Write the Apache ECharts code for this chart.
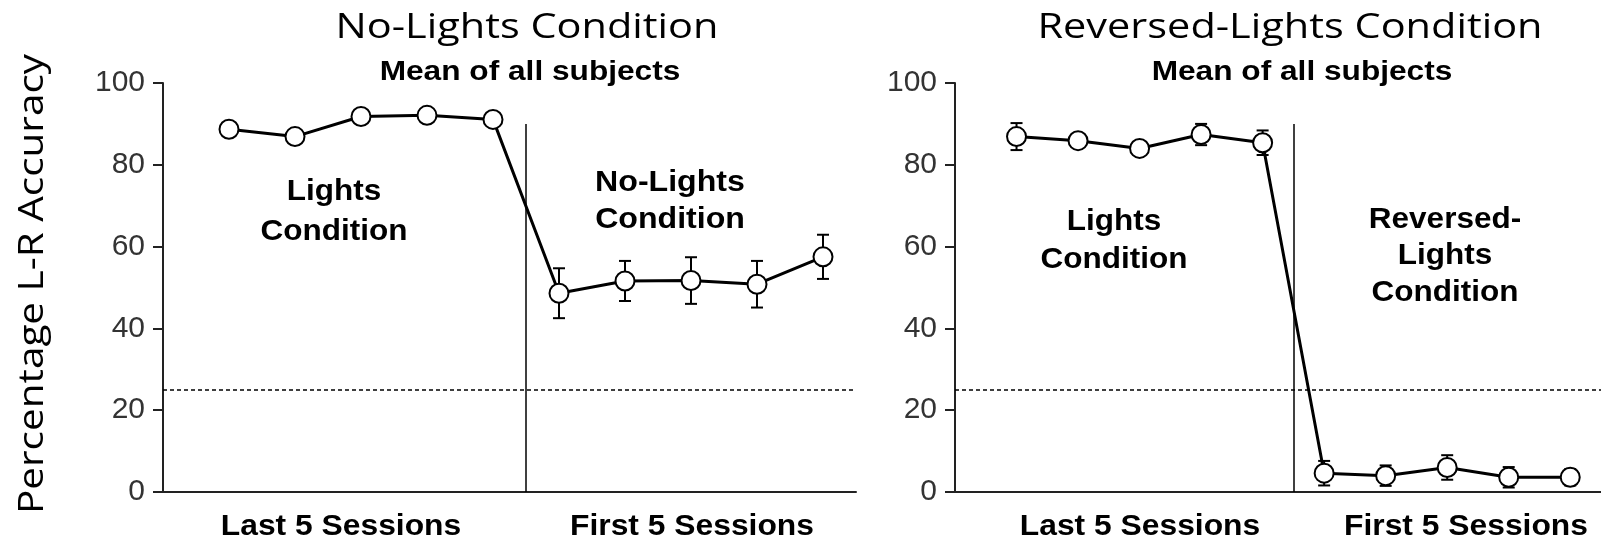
<!DOCTYPE html>
<html>
<head>
<meta charset="utf-8">
<script src="https://cdn.jsdelivr.net/npm/echarts@6/dist/echarts.min.js"></script>
<style>html,body{margin:0;padding:0;background:#fff;}#c{width:1601px;height:543px;}</style>
</head>
<body>
<div id="c"></div>
<script>
// Session positions (0-4: last 5 sessions of Lights condition, 5-9: first 5 sessions of test condition)
const sessions = [0, 1, 2, 3, 4, 5, 6, 7, 8, 9];
const noLightsMean = [88.7, 86.9, 91.8, 92.1, 91.1, 48.6, 51.6, 51.7, 50.8, 57.5];
const noLightsErr  = [1.0, 1.0, 1.0, 1.0, 1.0, 6.1, 4.9, 5.7, 5.7, 5.4];
const reversedMean = [86.9, 85.9, 84.0, 87.4, 85.4, 4.6, 4.0, 6.0, 3.6, 3.6];
const reversedErr  = [3.3, 1.5, 1.5, 2.6, 3.0, 3.0, 2.5, 3.0, 2.5, 2.0];
const yTicks = [0, 20, 40, 60, 80, 100];
const chanceLevel = 25;
const dividerPos = 4.5;
const dividerTop = 90;

const TXT = '#000';
const boldFont = 'Liberation Sans';
const titleFont = 'Open Sans';

function pts(mean) { return sessions.map((s, i) => [s, mean[i]]); }
function errPts(mean, err) { return sessions.map((s, i) => [s, mean[i], err[i]]); }

function errRender(params, api) {
  const x = api.value(0), y = api.value(1), e = api.value(2);
  const t = api.coord([x, y + e]), b = api.coord([x, y - e]);
  const cap = 6;
  const st = { stroke: '#000', lineWidth: 2 };
  return { type: 'group', children: [
    { type: 'line', shape: { x1: t[0], y1: t[1], x2: b[0], y2: b[1] }, style: st },
    { type: 'line', shape: { x1: t[0] - cap, y1: t[1], x2: t[0] + cap, y2: t[1] }, style: st },
    { type: 'line', shape: { x1: b[0] - cap, y1: b[1], x2: b[0] + cap, y2: b[1] }, style: st }
  ]};
}

function xAxis(idx) {
  return { type: 'value', gridIndex: idx, min: -1, max: 9.5,
    axisLine: { show: true, onZero: false, lineStyle: { color: '#222', width: 2 } },
    axisTick: { show: false }, axisLabel: { show: false }, splitLine: { show: false } };
}
function yAxis(idx) {
  return { type: 'value', gridIndex: idx, min: yTicks[0], max: yTicks[yTicks.length - 1], interval: 20,
    axisLine: { show: true, onZero: false, lineStyle: { color: '#222', width: 2 } },
    axisTick: { show: true, length: 10, lineStyle: { color: '#222', width: 2 } },
    axisLabel: { fontSize: 30, color: '#333', fontFamily: 'Liberation Sans', margin: 18 },
    splitLine: { show: false } };
}

function panelSeries(idx, mean, err) {
  return [
    { type: 'custom', xAxisIndex: idx, yAxisIndex: idx, z: 2, renderItem: errRender,
      encode: { x: 0, y: 1 }, data: errPts(mean, err), silent: true },
    { type: 'line', xAxisIndex: idx, yAxisIndex: idx, z: 3, data: pts(mean),
      symbol: 'circle', symbolSize: 19,
      itemStyle: { color: '#fff', borderColor: '#000', borderWidth: 2 },
      lineStyle: { color: '#000', width: 3 },
      markLine: { silent: true, symbol: 'none', label: { show: false }, animation: false,
        data: [
          [{ coord: [-1, chanceLevel], lineStyle: { type: [4, 3], width: 1.5, color: '#000' } },
           { coord: [9.5, chanceLevel] }],
          [{ coord: [dividerPos, 0], lineStyle: { type: 'solid', width: 1.5, color: '#000' } },
           { coord: [dividerPos, dividerTop] }]
        ] } }
  ];
}

function txt(text, x, y, size, font, weight, lh, sx) {
  return { type: 'text', x: x, y: y, silent: true, scaleX: sx || 1,
    style: { text: text, fill: TXT, font: weight + ' ' + size + 'px "' + font + '"',
      textAlign: 'center', textVerticalAlign: 'middle', lineHeight: lh || size * 1.2 } };
}

const chart = echarts.init(document.getElementById('c'));
chart.setOption({
  animation: false,
  backgroundColor: '#fff',
  grid: [
    { left: 163, top: 83, width: 693, height: 409 },
    { left: 955, top: 83, width: 650, height: 409 }
  ],
  xAxis: [xAxis(0), xAxis(1)],
  yAxis: [yAxis(0), yAxis(1)],
  series: [].concat(panelSeries(0, noLightsMean, noLightsErr), panelSeries(1, reversedMean, reversedErr)),
  graphic: [
    txt('No-Lights Condition', 527, 28, 34, titleFont, 'normal', null, 1.22),
    txt('Reversed-Lights Condition', 1290, 28, 34, titleFont, 'normal', null, 1.22),
    txt('Mean of all subjects', 530, 72, 28, boldFont, 'bold', null, 1.13),
    txt('Mean of all subjects', 1302, 72, 28, boldFont, 'bold', null, 1.13),
    txt('Lights\nCondition', 334, 212, 30, boldFont, 'bold', 40, 1.05),
    txt('No-Lights\nCondition', 670, 201, 30, boldFont, 'bold', 37, 1.07),
    txt('Lights\nCondition', 1114, 241, 30, boldFont, 'bold', 38, 1.05),
    txt('Reversed-\nLights\nCondition', 1445, 256, 30, boldFont, 'bold', 36.5, 1.05),
    txt('Last 5 Sessions', 341, 527, 30, boldFont, 'bold', null, 1.06),
    txt('First 5 Sessions', 692, 527, 30, boldFont, 'bold', null, 1.06),
    txt('Last 5 Sessions', 1140, 527, 30, boldFont, 'bold', null, 1.06),
    txt('First 5 Sessions', 1466, 527, 30, boldFont, 'bold', null, 1.06),
    { type: 'text', x: 33, y: 284, rotation: Math.PI / 2, silent: true, scaleX: 1.19,
      style: { text: 'Percentage L-R Accuracy', fill: TXT, font: 'normal 34px "Open Sans"',
        textAlign: 'center', textVerticalAlign: 'middle' } }
  ]
});
</script>
</body>
</html>
